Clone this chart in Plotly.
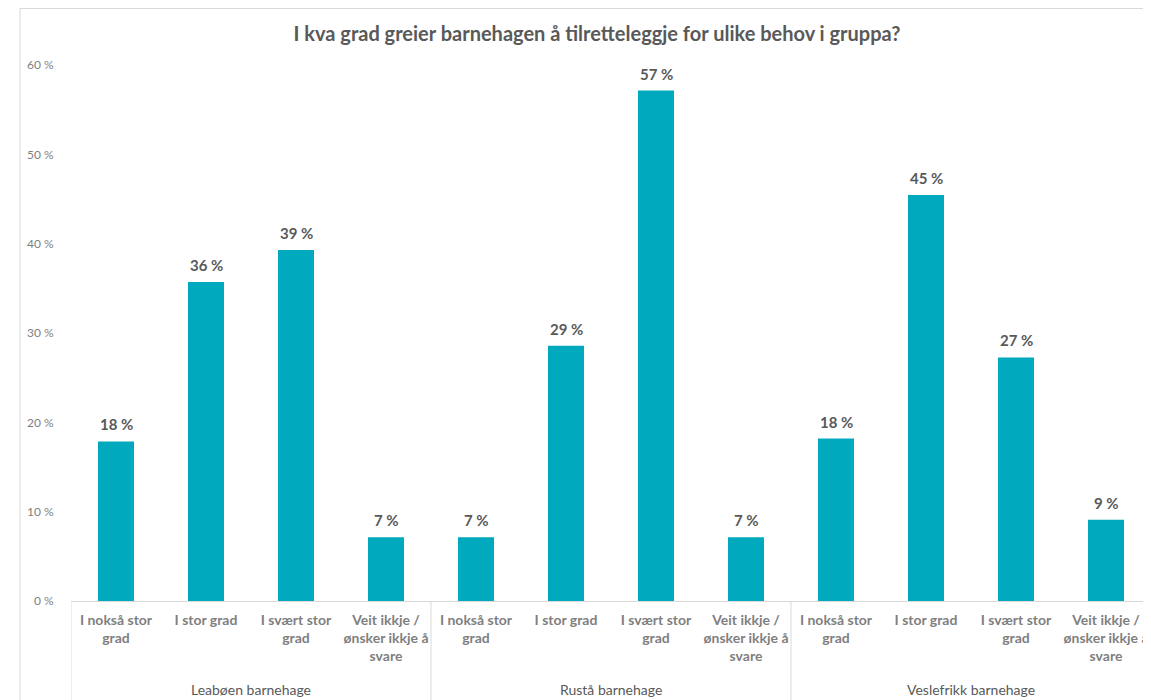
import plotly.graph_objects as go

groups = ["Leabøen barnehage", "Rustå barnehage", "Veslefrikk barnehage"]
answers = ["I nokså stor<br>grad", "I stor grad", "I svært stor<br>grad", "Veit ikkje /<br>ønsker ikkje å<br>svare"]
leaboen = [17.86, 35.71, 39.29, 7.14]
rusta = [7.14, 28.57, 57.14, 7.14]
veslefrikk = [18.18, 45.45, 27.27, 9.09]
y_ticks = [0, 10, 20, 30, 40, 50, 60]

series = [leaboen, rusta, veslefrikk]
n_ans = len(answers)
xs, labels, vals = [], [], []
for gi, s in enumerate(series):
    for ai, v in enumerate(s):
        xs.append(gi * n_ans + ai)
        labels.append(answers[ai])
        vals.append(v)

FONT = "Lato"
GRAY = "#595959"
LIGHT = "#7f7f7f"
LINE = "#d9d9d9"

# page body has an 8px margin; layout is expressed in figure coordinates
OFF = 8
W, H = 1151 - OFF, 700 - OFF
L, T = 71 - OFF, 65 - OFF
B_PIX = 601 - OFF
H_PLOT = B_PIX - T

fig = go.Figure(go.Bar(
    x=xs, y=vals,
    marker=dict(color="#00a9bd", line=dict(width=0)),
    width=0.4, cliponaxis=False,
))
for x, v in zip(xs, vals):
    fig.add_annotation(x=x, y=v, xref="x", yref="y", text=f"<b>{v:.0f} %</b>",
                       showarrow=False, yshift=17, yanchor="middle",
                       font=dict(family=FONT, size=15, color=GRAY))

for gi, g in enumerate(groups):
    fig.add_annotation(x=gi * n_ans + (n_ans - 1) / 2, y=-(689 - 601) / H_PLOT,
                       xref="x", yref="paper", text=g, showarrow=False, yanchor="middle",
                       font=dict(family=FONT, size=14, color=GRAY))
for gi in range(len(groups) + 1):
    fig.add_shape(type="line", xref="x", yref="paper",
                  x0=gi * n_ans - 0.5, x1=gi * n_ans - 0.5, y0=0, y1=-0.3,
                  line=dict(color=LINE, width=1))

fig.update_layout(
    width=W, height=H,
    margin=dict(l=L, r=0, t=T, b=H - B_PIX),
    paper_bgcolor="white", plot_bgcolor="white",
    title=dict(text="<b>I kva grad greier barnehagen å tilretteleggje for ulike behov i gruppa?</b>",
               x=(597 - OFF) / W, xanchor="center", y=1 - (34 - OFF) / H, yanchor="middle",
               font=dict(family=FONT, size=20, color=GRAY)),
    showlegend=False,
    font=dict(family=FONT, color=GRAY),
)
fig.update_xaxes(
    range=[-0.5, len(xs) - 0.5], tickvals=xs, ticktext=labels, automargin=False,
    showline=True, linecolor=LINE, linewidth=1, showgrid=False, zeroline=False,
    ticks="outside", ticklen=6, tickcolor="rgba(0,0,0,0)",
    tickfont=dict(family=FONT, size=14, color=LIGHT, weight="bold"),
)
fig.update_yaxes(
    range=[0, 60], tickvals=y_ticks, ticktext=[f"{t} %" for t in y_ticks], automargin=False,
    showgrid=False, zeroline=False, showline=False,
    ticks="outside", ticklen=14, tickcolor="rgba(0,0,0,0)",
    tickfont=dict(family=FONT, size=12, color=LIGHT),
)
# outer chart-area frame (left and top edges; the rest lies outside the view)
fx0 = -(L - 12) / (W - L)
fy1 = (B_PIX - 0.5) / H_PLOT
fig.add_shape(type="line", xref="paper", yref="paper", x0=fx0, x1=1.05, y0=fy1, y1=fy1,
              line=dict(color=LINE, width=1), layer="below")
fig.add_shape(type="line", xref="paper", yref="paper", x0=fx0, x1=fx0, y0=-0.3, y1=fy1,
              line=dict(color=LINE, width=1), layer="below")
fig.write_html("out.html")
